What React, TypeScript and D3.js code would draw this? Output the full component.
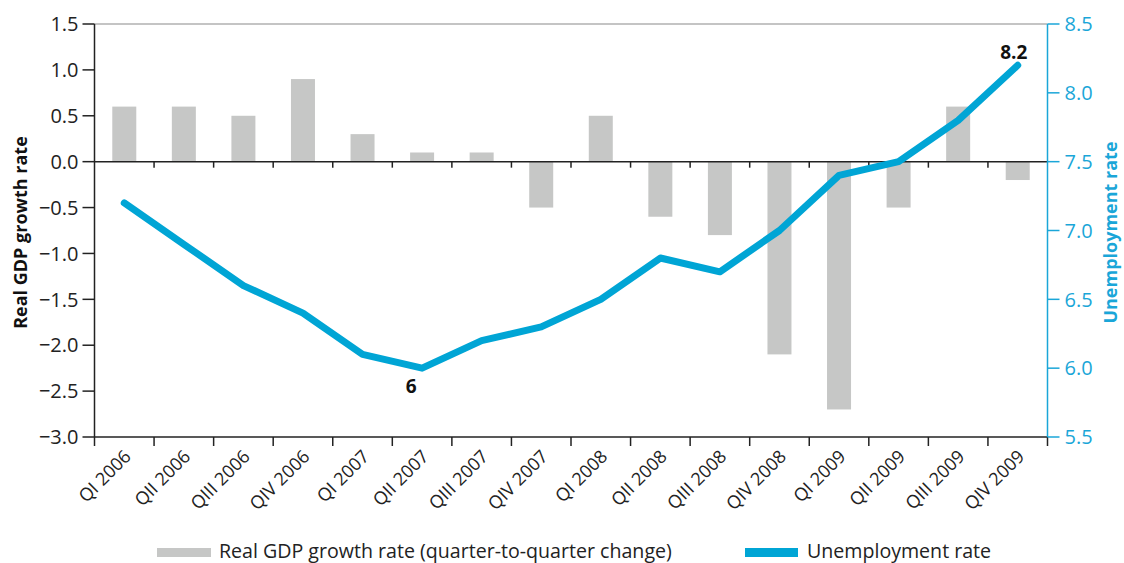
import React from "react";
import * as d3 from "d3";

const quarters = [
  "QI 2006", "QII 2006", "QIII 2006", "QIV 2006",
  "QI 2007", "QII 2007", "QIII 2007", "QIV 2007",
  "QI 2008", "QII 2008", "QIII 2008", "QIV 2008",
  "QI 2009", "QII 2009", "QIII 2009", "QIV 2009",
];
const gdpGrowth = [0.6, 0.6, 0.5, 0.9, 0.3, 0.1, 0.1, -0.5, 0.5, -0.6, -0.8, -2.1, -2.7, -0.5, 0.6, -0.2];
const unemployment = [7.2, 6.9, 6.6, 6.4, 6.1, 6.0, 6.2, 6.3, 6.5, 6.8, 6.7, 7.0, 7.4, 7.5, 7.8, 8.2];
const leftTicks = [-3.0, -2.5, -2.0, -1.5, -1.0, -0.5, 0.0, 0.5, 1.0, 1.5];
const rightTicks = [5.5, 6.0, 6.5, 7.0, 7.5, 8.0, 8.5];
const annotations = [
  { index: 5, label: "6" },
  { index: 15, label: "8.2" },
];

const W = 1124;
const H = 563;
const M = { left: 94.5, right: 1047.5, top: 24, bottom: 437 };
const BAR = "#c6c7c6";
const BLUE = "#00a5d5";
const AXBLUE = "#1aa6d8";
const FONT = "'Open Sans', 'Liberation Sans', sans-serif";

const fmt = (v: number) => (v < 0 ? "\u2212" : "") + Math.abs(v).toFixed(1);

export default function App() {
  const xb = d3.scaleBand<string>().domain(quarters).range([M.left, M.right]);
  const yL = d3.scaleLinear().domain([-3, 1.5]).range([M.bottom, M.top]);
  const yR = d3.scaleLinear().domain([5.5, 8.5]).range([M.bottom, M.top]);
  const cx = (q: string) => (xb(q) as number) + xb.bandwidth() / 2;
  const line = d3
    .line<number>()
    .x((_, i) => cx(quarters[i]))
    .y((d) => yR(d))
    .curve(d3.curveLinear);
  const boundaries = d3.range(quarters.length + 1).map((i) => M.left + i * xb.bandwidth());
  const y0 = yL(0);

  return (
    <svg width={W} height={H} style={{ position: "absolute", left: 0, top: 0 }} fontFamily={FONT}>
      <rect width={W} height={H} fill="#fff" />
      <line x1={M.left} x2={M.right} y1={M.top} y2={M.top} stroke="#b0b0b0" strokeWidth={1.5} />
      {gdpGrowth.map((v, i) => (
        <rect
          key={i}
          x={cx(quarters[i]) - 12}
          width={24}
          y={Math.min(yL(v), y0)}
          height={Math.abs(yL(v) - y0)}
          fill={BAR}
        />
      ))}
      <line x1={M.left} x2={M.right} y1={y0} y2={y0} stroke="#222" strokeWidth={1.5} />
      {boundaries.slice(1, -1).map((b, i) => (
        <line key={i} x1={b} x2={b} y1={y0} y2={y0 + 6} stroke="#222" strokeWidth={1.5} />
      ))}
      <line x1={M.left} x2={M.right} y1={M.bottom} y2={M.bottom} stroke="#222" strokeWidth={1.5} />
      {boundaries.map((b, i) => (
        <line key={i} x1={b} x2={b} y1={M.bottom} y2={M.bottom + 9} stroke="#222" strokeWidth={1.5} />
      ))}
      {quarters.map((q) => (
        <text
          key={q}
          transform={`translate(${cx(q) - 3},${M.bottom + 10}) rotate(-45)`}
          textAnchor="end"
          dominantBaseline="hanging"
          fontSize={18}
          fontWeight={400}
          fill="#222"
        >
          {q}
        </text>
      ))}
      <line x1={M.left} x2={M.left} y1={M.top} y2={M.bottom} stroke="#222" strokeWidth={1.5} />
      {leftTicks.map((t) => (
        <g key={t}>
          <line x1={M.left - 12} x2={M.left} y1={yL(t)} y2={yL(t)} stroke="#222" strokeWidth={1.5} />
          <text x={M.left - 16} y={yL(t)} dy="0.36em" textAnchor="end" fontSize={20} fontWeight={400} fill="#222">
            {fmt(t)}
          </text>
        </g>
      ))}
      <text
        transform={`translate(27,${(M.top + M.bottom) / 2 + 2}) rotate(-90)`}
        textAnchor="middle"
        fontSize={18}
        fontWeight={700}
        fill="#111"
      >
        Real GDP growth rate
      </text>
      <line x1={M.right} x2={M.right} y1={M.top} y2={M.bottom} stroke={AXBLUE} strokeWidth={1.5} />
      {rightTicks.map((t) => (
        <g key={t}>
          <line x1={M.right} x2={M.right + 12} y1={yR(t)} y2={yR(t)} stroke={AXBLUE} strokeWidth={1.5} />
          <text x={M.right + 17} y={yR(t)} dy="0.36em" textAnchor="start" fontSize={20} fontWeight={400} fill={AXBLUE}>
            {t.toFixed(1)}
          </text>
        </g>
      ))}
      <text
        transform={`translate(1117,${(M.top + M.bottom) / 2 + 2}) rotate(-90)`}
        textAnchor="middle"
        fontSize={18}
        fontWeight={700}
        fill={AXBLUE}
      >
        Unemployment rate
      </text>
      <path d={line(unemployment) || ""} fill="none" stroke={BLUE} strokeWidth={7} strokeLinecap="round" strokeLinejoin="round" />
      {annotations.map((a) => (
        <text
          key={a.index}
          x={cx(quarters[a.index]) + (a.index === 15 ? -4 : -11)}
          y={yR(unemployment[a.index]) + (a.index === 15 ? -6 : 25)}
          textAnchor="middle"
          fontSize={19}
          fontWeight={700}
          fill="#111"
        >
          {a.label}
        </text>
      ))}
      <rect x={157} y={548} width={54} height={9} fill={BAR} />
      <text x={219} y={558} fontSize={19.6} fontWeight={400} fill="#222">
        Real GDP growth rate (quarter-to-quarter change)
      </text>
      <rect x={745} y={548} width={53} height={9} fill={BLUE} />
      <text x={807} y={558} fontSize={19.6} fontWeight={400} fill="#222">
        Unemployment rate
      </text>
    </svg>
  );
}
